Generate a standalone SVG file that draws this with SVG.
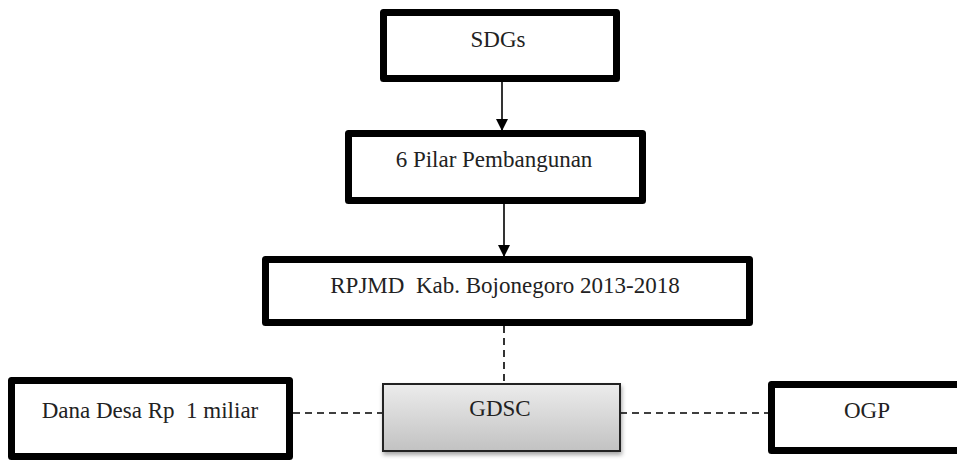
<svg xmlns="http://www.w3.org/2000/svg" width="957" height="461" viewBox="0 0 957 461">
<style>
.box{fill:#fff;stroke:#000;stroke-width:7;stroke-linejoin:round}
.lbl{font-family:'Liberation Serif','Times New Roman','DejaVu Serif',serif;font-size:23px;fill:#222;text-anchor:middle}
.arrow{stroke:#000;stroke-width:1.6;fill:none}
.dash{stroke:#000;stroke-width:1.6;fill:none;stroke-dasharray:7 5}
</style>
<defs>
<marker id="ah" markerWidth="12" markerHeight="12" refX="12" refY="6" orient="auto" markerUnits="userSpaceOnUse">
<path d="M0,0 L12,6 L0,12 Z" fill="#000"/>
</marker>
<linearGradient id="g" x1="0" y1="0" x2="0" y2="1">
<stop offset="0" stop-color="#ececec"/>
<stop offset="1" stop-color="#c2c2c2"/>
</linearGradient>
<filter id="sh" x="-10%" y="-10%" width="120%" height="130%">
<feDropShadow dx="1" dy="3" stdDeviation="2" flood-color="#000" flood-opacity="0.35"/>
</filter>
</defs>
<g id="connectors">
<line class="arrow" x1="502" y1="82" x2="502" y2="131" marker-end="url(#ah)"/>
<line class="arrow" x1="504" y1="204" x2="504" y2="257" marker-end="url(#ah)"/>
<line class="dash" x1="504" y1="326" x2="504" y2="384"/>
<line class="dash" x1="293" y1="413" x2="383" y2="413"/>
<line class="dash" x1="620" y1="413" x2="768" y2="413"/>
</g>
<g id="sdgs">
<rect class="box" x="383.5" y="12.5" width="233" height="66"/>
<text class="lbl" x="498" y="47" font-family="Liberation Serif, serif">SDGs</text>
</g>
<g id="pilar">
<rect class="box" x="348.5" y="133.5" width="294" height="67"/>
<text class="lbl" x="494" y="167">6 Pilar Pembangunan</text>
</g>
<g id="rpjmd">
<rect class="box" x="265.5" y="259.5" width="484" height="63"/>
<text class="lbl" x="505" y="293" xml:space="preserve">RPJMD  Kab. Bojonegoro 2013-2018</text>
</g>
<g id="dana">
<rect class="box" x="11.5" y="380.5" width="278" height="76"/>
<text class="lbl" x="150" y="418" xml:space="preserve">Dana Desa Rp  1 miliar</text>
</g>
<g id="gdsc">
<rect x="383" y="384" width="237" height="67" fill="url(#g)" stroke="#222" stroke-width="2" filter="url(#sh)"/>
<text class="lbl" x="500" y="416">GDSC</text>
</g>
<g id="ogp">
<rect class="box" x="771.5" y="384.5" width="200" height="66"/>
<text class="lbl" x="867" y="418">OGP</text>
</g>
</svg>
